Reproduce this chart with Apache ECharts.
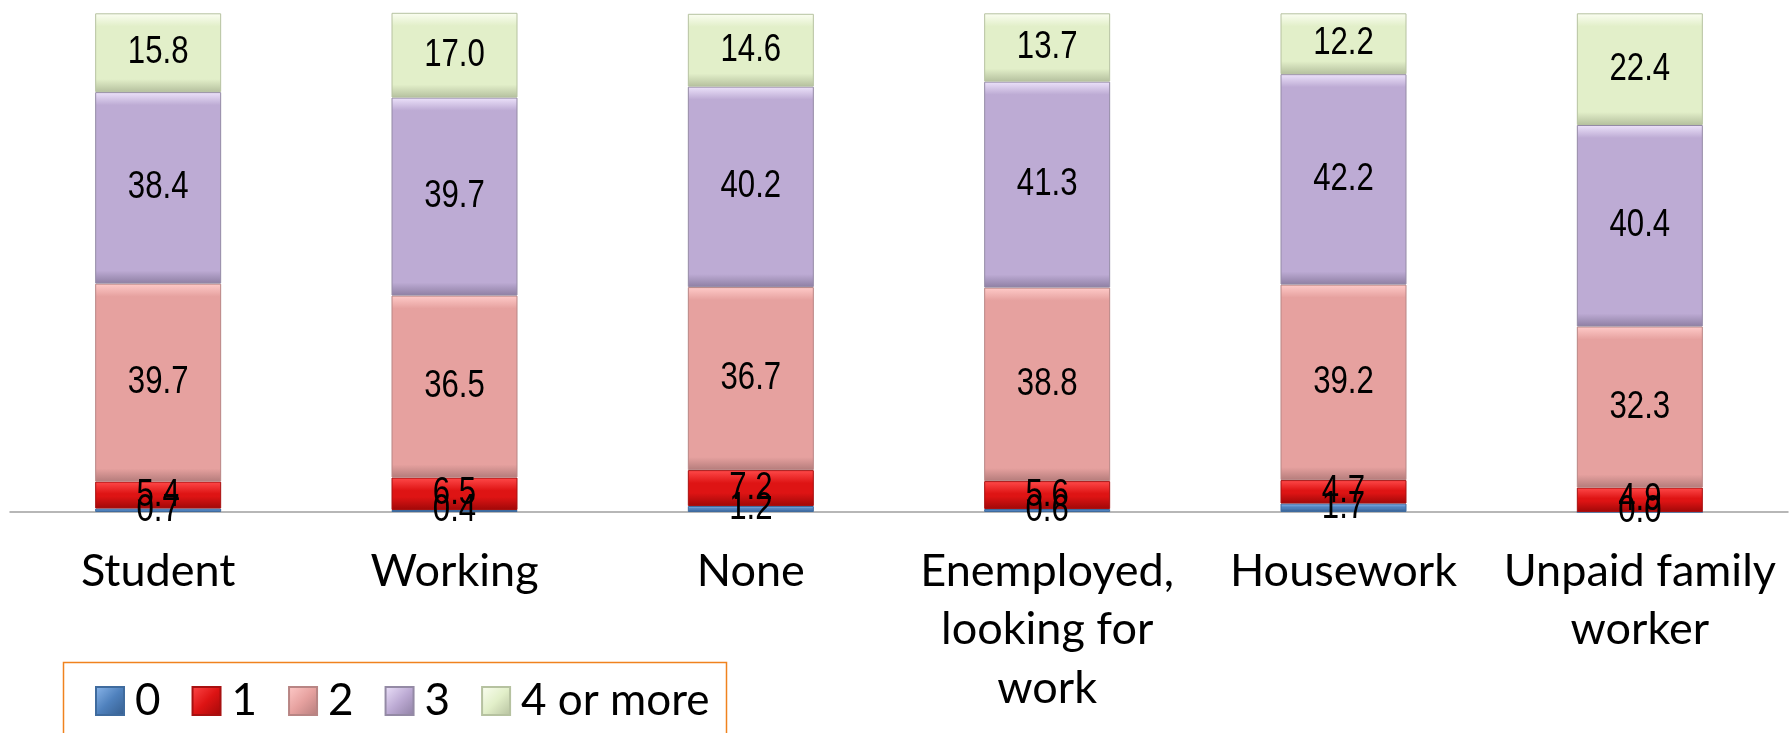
<!DOCTYPE html>
<html>
<head>
<meta charset="utf-8">
<script src="https://cdn.jsdelivr.net/npm/echarts@6/dist/echarts.min.js"></script>
<style>
  html, body { margin: 0; padding: 0; background: #ffffff; }
  #chart { width: 1790px; height: 733px; }
</style>
</head>
<body>
<div id="chart"></div>
<script>
// ---- Data ----
const categories = ['Student', 'Working', 'None', 'Enemployed,\nlooking for\nwork', 'Housework', 'Unpaid family\nworker'];
const seriesNames = ['0', '1', '2', '3', '4 or more'];
const values0 = [0.7, 0.4, 1.2, 0.6, 1.7, 0.0];
const values1 = [5.4, 6.5, 7.2, 5.6, 4.7, 4.9];
const values2 = [39.7, 36.5, 36.7, 38.8, 39.2, 32.3];
const values3 = [38.4, 39.7, 40.2, 41.3, 42.2, 40.4];
const values4 = [15.8, 17.0, 14.6, 13.7, 12.2, 22.4];

// ---- Styling ----
const palettes = [
  { light: '#8DB8EC', base: '#4F81BD', dark: '#345C8C', border: '#3F6B9E' },
  { light: '#FF4A4A', base: '#DE1414', dark: '#A00808', border: '#A81010' },
  { light: '#FFCBC9', base: '#E6A19F', dark: '#B47C7B', border: '#B88584' },
  { light: '#EDE3FB', base: '#BDABD4', dark: '#8E7FA3', border: '#948AA5' },
  { light: '#FBFEF2', base: '#E2EFC9', dark: '#B5C09E', border: '#B6C2A0' }
];
const GRID_TOP = 13.3, GRID_BOTTOM = 221, CHART_H = 733;
const PLOT_H = CHART_H - GRID_TOP - GRID_BOTTOM;
const BEVEL_PX = 13;

function bevelFill(p, value) {
  const h = Math.max(value / 100 * PLOT_H, 0.01);
  const f = Math.min(0.45, BEVEL_PX / h);
  return new echarts.graphic.LinearGradient(0, 0, 0, 1, [
    { offset: 0, color: p.light },
    { offset: f, color: p.base },
    { offset: 1 - f, color: p.base },
    { offset: 1, color: p.dark }
  ]);
}
function iconFill(p) {
  return new echarts.graphic.LinearGradient(0, 0, 1, 1, [
    { offset: 0, color: p.light },
    { offset: 0.5, color: p.base },
    { offset: 1, color: p.dark }
  ]);
}

const allValues = [values0, values1, values2, values3, values4];
const labelFont = "'Liberation Sans', Arial, sans-serif";
const catFont = "Lato, 'Open Sans', sans-serif";

const series = allValues.map((vals, i) => ({
  name: seriesNames[i],
  type: 'bar',
  stack: 'total',
  barWidth: 126,
  itemStyle: { color: iconFill(palettes[i]), borderColor: palettes[i].border, borderWidth: 1 },
  label: { show: false },
  data: vals.map(v => ({
    value: v,
    itemStyle: { color: bevelFill(palettes[i], v), borderColor: palettes[i].border, borderWidth: 1 }
  }))
}));

// Segment labels (narrow text), positioned through the axes from the same arrays
const labelRows = [];
categories.forEach((c, ci) => {
  let base = 0;
  allValues.forEach((vals) => {
    labelRows.push([ci, base, vals[ci]]);
    base += vals[ci];
  });
});
series.push({
  name: 'segment-labels',
  type: 'custom',
  z: 10,
  silent: true,
  data: labelRows,
  renderItem: function (params, api) {
    const ci = api.value(0), base = api.value(1), v = api.value(2);
    const p = api.coord([ci, base + v / 2]);
    return {
      type: 'text',
      x: p[0],
      y: p[1],
      scaleX: 0.82,
      style: {
        text: Number(v).toFixed(1),
        font: "38px " + labelFont,
        fill: '#000',
        align: 'center',
        verticalAlign: 'middle'
      }
    };
  }
});

const chart = echarts.init(document.getElementById('chart'), null, { renderer: 'canvas' });
chart.setOption({
  animation: false,
  backgroundColor: '#ffffff',
  grid: { left: 10, right: 2, top: GRID_TOP, bottom: GRID_BOTTOM, containLabel: false },
  xAxis: {
    type: 'category',
    data: categories,
    axisTick: { show: false },
    axisLine: { show: true, lineStyle: { color: '#A0A0A0', width: 1.5 } },
    axisLabel: {
      interval: 0,
      margin: 30,
      color: '#000',
      fontFamily: catFont,
      fontSize: 45,
      lineHeight: 58.5
    }
  },
  yAxis: {
    type: 'value',
    min: 0,
    max: 100,
    show: false,
    splitLine: { show: false }
  },
  legend: {
    left: 95,
    top: 679,
    orient: 'horizontal',
    padding: 0,
    borderWidth: 0,
    itemWidth: 28,
    itemHeight: 28,
    itemGap: 31,
    icon: 'rect',
    textStyle: { color: '#000', fontFamily: catFont, fontSize: 44, lineHeight: 40, padding: [0, 0, 0, 6] },
    data: seriesNames
  },
  graphic: [{
    type: 'rect',
    left: 61,
    top: 660,
    shape: { width: 663, height: 120 },
    style: { fill: 'none', stroke: '#F0821E', lineWidth: 1.5 },
    z: 0
  }],
  series: series
});
</script>
</body>
</html>
